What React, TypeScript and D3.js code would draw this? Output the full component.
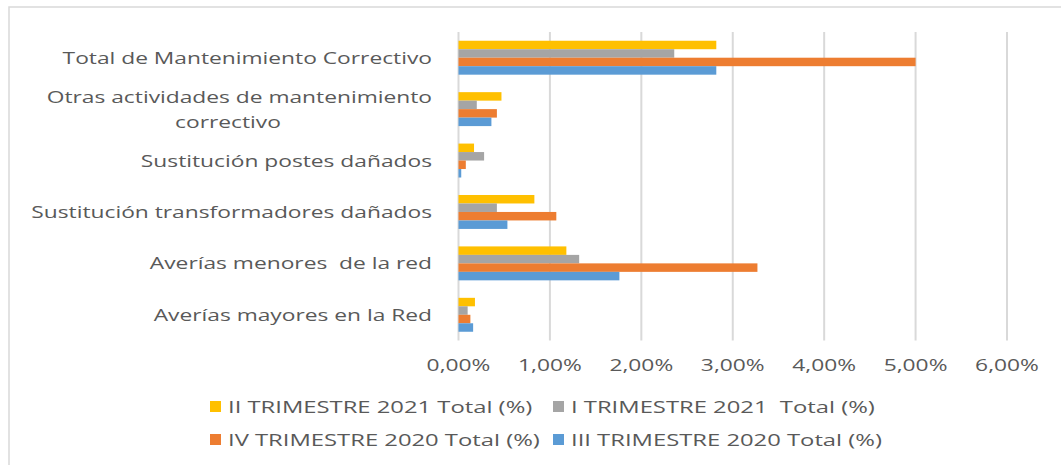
import * as d3 from "d3";

const categories = [
  ["Total de Mantenimiento Correctivo"],
  ["Otras actividades de mantenimiento", "correctivo"],
  ["Sustitución postes dañados"],
  ["Sustitución transformadores dañados"],
  ["Averías menores  de la red"],
  ["Averías mayores en la Red"],
];

const seriesNames = [
  "II TRIMESTRE 2021 Total (%)",
  "I TRIMESTRE 2021  Total (%)",
  "IV TRIMESTRE 2020 Total (%)",
  "III TRIMESTRE 2020 Total (%)",
];

// values in %, same order as categories
const trim2_2021 = [2.82, 0.47, 0.17, 0.83, 1.18, 0.18];
const trim1_2021 = [2.36, 0.2, 0.28, 0.42, 1.32, 0.1];
const trim4_2020 = [5.0, 0.42, 0.08, 1.07, 3.27, 0.13];
const trim3_2020 = [2.82, 0.36, 0.03, 0.535, 1.76, 0.16];

const colors = ["#FFC000", "#A5A5A5", "#ED7D31", "#5B9BD5"];
const ticks = [0, 1, 2, 3, 4, 5, 6];

const W = 1061;
const H = 465;
const SX = 1.34; // the source picture is stretched horizontally
const SX_LEG = 1.4;
const FONT = "'Open Sans', sans-serif";
const TXT = "#595959";

export default function App() {
  const series = [trim2_2021, trim1_2021, trim4_2020, trim3_2020];
  const catKeys = categories.map((c) => c.join(" "));

  const x = d3.scaleLinear().domain([0, 6]).range([458.5, 1007]);
  const y = d3
    .scaleBand()
    .domain(catKeys)
    .range([32, 340.5])
    .paddingInner(0.34)
    .paddingOuter(0.17);
  const inner = d3
    .scaleBand()
    .domain(seriesNames)
    .range([0, y.bandwidth()]);

  const fmt = (v: number) => d3.format(".2f")(v).replace(".", ",") + "%";

  const legendCols = [210, 553];
  const legendRows = [407, 440];

  return (
    <svg
      width={W}
      height={H}
      style={{ position: "absolute", left: 0, top: 0, background: "#fff" }}
    >
      <rect x={9} y={7} width={W} height={H} fill="#fff" stroke="#D9D9D9" strokeWidth={1.5} />

      {ticks.map((t) => (
        <line
          key={t}
          x1={x(t)}
          x2={x(t)}
          y1={32}
          y2={340.5}
          stroke="#D9D9D9"
          strokeWidth={2}
        />
      ))}

      {catKeys.map((key, ci) => (
        <g key={key} transform={`translate(0,${y(key)})`}>
          {series.map((vals, si) => (
            <rect
              key={si}
              x={x(0)}
              y={inner(seriesNames[si])}
              width={x(vals[ci]) - x(0)}
              height={inner.bandwidth()}
              fill={colors[si]}
            />
          ))}
        </g>
      ))}

      {categories.map((lines, ci) => {
        const cy = (y(catKeys[ci]) as number) + y.bandwidth() / 2;
        if (lines.length === 1) {
          return (
            <text
              key={ci}
              transform={`translate(432,${cy + 6}) scale(${SX},1)`}
              textAnchor="end"
              fontFamily={FONT}
              fontSize={17}
              fill={TXT}
              style={{ whiteSpace: "pre" }}
            >
              {lines[0]}
            </text>
          );
        }
        return (
          <g key={ci} fontFamily={FONT} fontSize={17} fill={TXT}>
            <text transform={`translate(432,${cy - 6.5}) scale(${SX},1)`} textAnchor="end">
              {lines[0]}
            </text>
            <text transform={`translate(228,${cy + 18.5}) scale(${SX},1)`} textAnchor="middle">
              {lines[1]}
            </text>
          </g>
        );
      })}

      {ticks.map((t) => (
        <text
          key={t}
          transform={`translate(${x(t)},371) scale(${SX},1)`}
          textAnchor="middle"
          fontFamily={FONT}
          fontSize={17}
          fill={TXT}
        >
          {fmt(t)}
        </text>
      ))}

      {seriesNames.map((name, si) => {
        const lx = legendCols[si % 2];
        const ly = legendRows[Math.floor(si / 2)];
        return (
          <g key={name}>
            <rect x={lx} y={ly - 6} width={11} height={11} fill={colors[si]} />
            <text
              transform={`translate(${lx + 18},${ly + 6}) scale(${SX_LEG},1)`}
              fontFamily={FONT}
              fontSize={17}
              fill={TXT}
              style={{ whiteSpace: "pre" }}
            >
              {name}
            </text>
          </g>
        );
      })}
    </svg>
  );
}
